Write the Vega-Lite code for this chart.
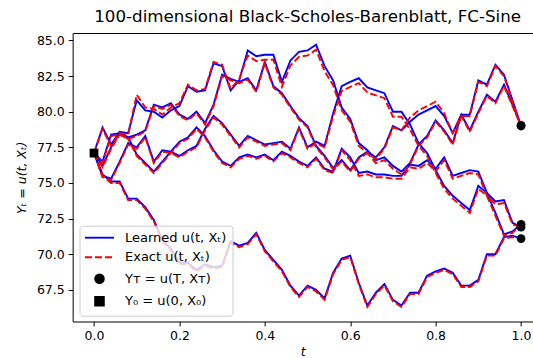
{
 "$schema": "https://vega.github.io/schema/vega-lite/v6.json",
 "autosize": {"type": "none"},
 "padding": {"left": 72.65, "top": 33, "right": 0, "bottom": 36.5},
 "width": 460.35,
 "height": 288.5,
 "title": {"text": "100-dimensional Black-Scholes-Barenblatt, FC-Sine", "font": "DejaVu Sans", "fontSize": 16.7, "fontWeight": "normal", "color": "black", "anchor": "middle", "frame": "group", "dx": 4.8, "dy": 14, "offset": 8, "baseline": "alphabetic"},
 "config": {
  "view": {"stroke": null},
  "axis": {"domainColor": "black", "tickColor": "black", "labelColor": "black", "titleColor": "black", "labelFont": "DejaVu Sans", "titleFont": "DejaVu Sans", "labelFontSize": 12.5, "titleFontSize": 12.5, "titleFontWeight": "normal", "tickSize": 4.4, "labelPadding": 4, "grid": false, "domainWidth": 1, "tickWidth": 1}
 },
 "datasets": {
  "learned": [
   {"t":0.00,"A":77.1,"B":77.1,"C":77.1,"D":77.1,"E":77.1},
   {"t":0.02,"A":78.9,"B":76.5,"C":75.5,"D":76.2,"E":75.6},
   {"t":0.04,"A":77.7,"B":78.4,"C":75.3,"D":77.5,"E":75.1},
   {"t":0.06,"A":78.6,"B":78.5,"C":76.5,"D":78.5,"E":75.1},
   {"t":0.08,"A":78.5,"B":78.2,"C":77.8,"D":78.2,"E":73.9},
   {"t":0.10,"A":80.8,"B":78.4,"C":77.5,"D":77.0,"E":73.9},
   {"t":0.12,"A":80.1,"B":78.7,"C":78.3,"D":76.4,"E":73.3},
   {"t":0.14,"A":80.0,"B":80.5,"C":76.5,"D":75.8,"E":72.4},
   {"t":0.16,"A":79.6,"B":80.3,"C":77.3,"D":76.5,"E":71.0},
   {"t":0.18,"A":80.1,"B":80.6,"C":77.2,"D":77.2,"E":70.4},
   {"t":0.20,"A":80.4,"B":79.8,"C":76.9,"D":77.9,"E":69.4},
   {"t":0.22,"A":81.8,"B":79.5,"C":77.3,"D":78.2,"E":69.4},
   {"t":0.24,"A":81.4,"B":80.0,"C":77.6,"D":78.9,"E":68.9},
   {"t":0.26,"A":81.5,"B":79.2,"C":78.8,"D":78.3,"E":69.3},
   {"t":0.28,"A":83.4,"B":80.5,"C":79.7,"D":77.3,"E":69.1},
   {"t":0.30,"A":83.2,"B":82.6,"C":79.2,"D":76.5,"E":69.2},
   {"t":0.32,"A":81.5,"B":82.3,"C":78.4,"D":76.2,"E":70.9},
   {"t":0.34,"A":82.2,"B":82.1,"C":77.6,"D":76.8,"E":70.6},
   {"t":0.36,"A":84.3,"B":82.35,"C":78.3,"D":77.0,"E":70.8},
   {"t":0.38,"A":83.9,"B":81.5,"C":78.0,"D":76.8,"E":71.5},
   {"t":0.40,"A":84.0,"B":83.5,"C":77.7,"D":77.0,"E":70.3},
   {"t":0.42,"A":84.0,"B":81.8,"C":77.8,"D":76.6,"E":69.6},
   {"t":0.44,"A":82.1,"B":81.3,"C":77.9,"D":77.2,"E":68.9},
   {"t":0.46,"A":83.6,"B":80.4,"C":77.4,"D":76.9,"E":67.8},
   {"t":0.48,"A":84.2,"B":79.55,"C":78.9,"D":76.5,"E":67.1},
   {"t":0.50,"A":84.3,"B":79.0,"C":77.5,"D":76.2,"E":67.8},
   {"t":0.52,"A":84.7,"B":77.6,"C":77.9,"D":76.8,"E":67.5},
   {"t":0.54,"A":83.2,"B":76.9,"C":77.6,"D":76.0,"E":66.9},
   {"t":0.56,"A":82.2,"B":76.05,"C":79.9,"D":75.8,"E":68.7},
   {"t":0.58,"A":80.3,"B":76.6,"C":81.8,"D":77.4,"E":69.7},
   {"t":0.60,"A":79.5,"B":75.9,"C":82.1,"D":76.8,"E":69.9},
   {"t":0.62,"A":77.8,"B":76.8,"C":82.35,"D":75.7,"E":68.0},
   {"t":0.64,"A":77.3,"B":77.2,"C":81.7,"D":75.8,"E":66.4},
   {"t":0.66,"A":76.6,"B":76.8,"C":81.5,"D":75.6,"E":67.3},
   {"t":0.68,"A":76.8,"B":77.5,"C":81.3,"D":75.6,"E":67.9},
   {"t":0.70,"A":76.2,"B":79.0,"C":80.0,"D":75.5,"E":66.8},
   {"t":0.72,"A":75.8,"B":78.7,"C":80.0,"D":75.5,"E":66.4},
   {"t":0.74,"A":76.4,"B":79.3,"C":79.1,"D":76.3,"E":67.3},
   {"t":0.76,"A":77.7,"B":79.8,"C":77.8,"D":76.2,"E":67.3},
   {"t":0.78,"A":78.3,"B":80.1,"C":77.1,"D":76.6,"E":68.5},
   {"t":0.80,"A":79.4,"B":80.4,"C":75.9,"D":76.0,"E":68.8},
   {"t":0.82,"A":78.7,"B":79.7,"C":74.8,"D":76.8,"E":69.0},
   {"t":0.84,"A":77.8,"B":78.5,"C":74.1,"D":75.5,"E":68.7},
   {"t":0.86,"A":79.8,"B":79.8,"C":73.6,"D":75.7,"E":67.8},
   {"t":0.88,"A":79.8,"B":78.7,"C":73.1,"D":75.9,"E":67.8},
   {"t":0.90,"A":82.2,"B":80.0,"C":74.8,"D":75.8,"E":68.2},
   {"t":0.92,"A":81.9,"B":81.2,"C":74.3,"D":74.3,"E":70.0},
   {"t":0.94,"A":83.3,"B":80.7,"C":72.9,"D":73.7,"E":70.0},
   {"t":0.96,"A":82.6,"B":81.9,"C":71.4,"D":73.8,"E":71.2},
   {"t":0.98,"A":80.8,"B":80.5,"C":71.6,"D":72.2,"E":71.3},
   {"t":1.00,"A":79.0,"B":79.0,"C":72.1,"D":71.9,"E":71.1}
  ],
  "exact": [
   {"t":0.00,"A":77.1,"B":77.1,"C":77.1,"D":77.1,"E":77.1},
   {"t":0.02,"A":78.8,"B":76.4,"C":75.4,"D":76.1,"E":75.5},
   {"t":0.04,"A":77.6,"B":78.3,"C":75.2,"D":77.4,"E":75.0},
   {"t":0.06,"A":78.5,"B":78.4,"C":76.4,"D":78.4,"E":75.0},
   {"t":0.08,"A":78.4,"B":78.1,"C":77.7,"D":78.1,"E":73.8},
   {"t":0.10,"A":81.2,"B":78.3,"C":77.4,"D":76.9,"E":73.8},
   {"t":0.12,"A":80.3,"B":78.6,"C":78.2,"D":76.3,"E":73.2},
   {"t":0.14,"A":80.2,"B":80.4,"C":76.4,"D":75.7,"E":72.3},
   {"t":0.16,"A":79.8,"B":80.2,"C":77.2,"D":76.4,"E":70.9},
   {"t":0.18,"A":80.3,"B":80.5,"C":77.1,"D":77.1,"E":70.3},
   {"t":0.20,"A":80.6,"B":79.7,"C":76.8,"D":77.8,"E":69.3},
   {"t":0.22,"A":81.9,"B":79.4,"C":77.2,"D":78.1,"E":69.3},
   {"t":0.24,"A":81.5,"B":79.9,"C":77.5,"D":78.8,"E":68.8},
   {"t":0.26,"A":81.6,"B":79.1,"C":78.7,"D":78.2,"E":69.2},
   {"t":0.28,"A":83.5,"B":80.4,"C":79.6,"D":77.2,"E":69.0},
   {"t":0.30,"A":83.3,"B":82.5,"C":79.1,"D":76.4,"E":69.1},
   {"t":0.32,"A":81.6,"B":82.2,"C":78.3,"D":76.1,"E":70.8},
   {"t":0.34,"A":82.3,"B":82.0,"C":77.5,"D":76.7,"E":70.5},
   {"t":0.36,"A":83.95,"B":82.25,"C":78.2,"D":76.9,"E":70.7},
   {"t":0.38,"A":83.55,"B":81.4,"C":77.9,"D":76.7,"E":71.4},
   {"t":0.40,"A":83.65,"B":83.4,"C":77.6,"D":76.9,"E":70.2},
   {"t":0.42,"A":83.65,"B":81.7,"C":77.7,"D":76.5,"E":69.5},
   {"t":0.44,"A":81.75,"B":81.2,"C":77.8,"D":77.1,"E":68.8},
   {"t":0.46,"A":83.25,"B":80.3,"C":77.3,"D":76.8,"E":67.7},
   {"t":0.48,"A":83.85,"B":79.45,"C":78.8,"D":76.4,"E":67.0},
   {"t":0.50,"A":83.95,"B":78.9,"C":77.4,"D":76.1,"E":67.7},
   {"t":0.52,"A":84.35,"B":77.5,"C":77.8,"D":76.7,"E":67.4},
   {"t":0.54,"A":82.85,"B":76.8,"C":77.5,"D":75.9,"E":66.8},
   {"t":0.56,"A":81.85,"B":75.95,"C":79.7,"D":75.7,"E":68.6},
   {"t":0.58,"A":80.1,"B":76.5,"C":81.45,"D":77.3,"E":69.6},
   {"t":0.60,"A":79.3,"B":75.8,"C":81.75,"D":76.6,"E":69.8},
   {"t":0.62,"A":77.6,"B":76.7,"C":82.0,"D":75.5,"E":67.9},
   {"t":0.64,"A":77.1,"B":77.1,"C":81.35,"D":75.6,"E":66.3},
   {"t":0.66,"A":76.4,"B":76.7,"C":81.15,"D":75.4,"E":67.2},
   {"t":0.68,"A":76.6,"B":77.4,"C":80.95,"D":75.4,"E":67.8},
   {"t":0.70,"A":76.0,"B":78.9,"C":79.65,"D":75.3,"E":66.7},
   {"t":0.72,"A":75.6,"B":78.7,"C":79.65,"D":75.3,"E":66.3},
   {"t":0.74,"A":76.3,"B":79.6,"C":78.75,"D":76.1,"E":67.2},
   {"t":0.76,"A":77.6,"B":80.1,"C":77.6,"D":76.0,"E":67.2},
   {"t":0.78,"A":78.2,"B":80.4,"C":76.9,"D":76.4,"E":68.4},
   {"t":0.80,"A":79.3,"B":80.7,"C":75.7,"D":75.8,"E":68.7},
   {"t":0.82,"A":78.6,"B":79.9,"C":74.6,"D":76.6,"E":68.9},
   {"t":0.84,"A":77.7,"B":78.5,"C":73.9,"D":75.3,"E":68.6},
   {"t":0.86,"A":79.7,"B":79.7,"C":73.4,"D":75.5,"E":67.7},
   {"t":0.88,"A":79.7,"B":78.6,"C":72.9,"D":75.7,"E":67.7},
   {"t":0.90,"A":82.1,"B":79.9,"C":74.6,"D":75.6,"E":68.1},
   {"t":0.92,"A":81.8,"B":81.1,"C":74.1,"D":74.1,"E":69.9},
   {"t":0.94,"A":83.2,"B":80.6,"C":72.7,"D":73.5,"E":69.9},
   {"t":0.96,"A":82.5,"B":81.8,"C":71.3,"D":73.6,"E":71.1},
   {"t":0.98,"A":80.7,"B":80.4,"C":71.5,"D":72.1,"E":71.2},
   {"t":1.00,"A":79.0,"B":79.0,"C":72.1,"D":71.9,"E":71.1}
  ],
  "marks": [
   {"t":1.0,"v":79.0,"label":"Yᴛ = u(T, Xᴛ)"},
   {"t":1.0,"v":79.05,"label":"Yᴛ = u(T, Xᴛ)"},
   {"t":1.0,"v":72.1,"label":"Yᴛ = u(T, Xᴛ)"},
   {"t":1.0,"v":71.9,"label":"Yᴛ = u(T, Xᴛ)"},
   {"t":1.0,"v":71.1,"label":"Yᴛ = u(T, Xᴛ)"},
   {"t":0.0,"v":77.1,"label":"Y₀ = u(0, X₀)"}
  ]
 },
 "resolve": {"axis": {"x": "independent"}},
 "layer": [
  {
   "data": {"name": "learned"},
   "transform": [{"fold": ["A","B","C","D","E"], "as": ["path","v"]}],
   "mark": {"type": "line", "strokeWidth": 1.9, "clip": true},
   "encoding": {
    "x": {"field": "t", "type": "quantitative", "scale": {"domain": [-0.05, 1.028], "nice": false, "zero": false}, "axis": {"values": [0,0.2,0.4,0.6,0.8,1.0], "format": ".1f", "title": "t", "titleFontStyle": "italic", "titlePadding": 3}},
    "y": {"field": "v", "type": "quantitative", "scale": {"domain": [65.28, 85.526], "nice": false, "zero": false}, "axis": {"values": [67.5,70,72.5,75,77.5,80,82.5,85], "format": ".1f", "title": "Yₜ = u(t, Xₜ)", "titleFontStyle": "italic", "titlePadding": 8}},
    "detail": {"field": "path", "type": "nominal"},
    "color": {"datum": "Learned u(t, Xₜ)", "type": "nominal",
     "scale": {"domain": ["Learned u(t, Xₜ)", "Exact u(t, Xₜ)", "Yᴛ = u(T, Xᴛ)", "Y₀ = u(0, X₀)"], "range": ["#0000ff", "#ff0000", "#000000", "#000000"]},
     "legend": {"orient": "none", "legendX": 6.85, "legendY": 192.7, "title": null, "padding": 5.5, "labelFont": "DejaVu Sans", "labelFontSize": 13, "labelColor": "black", "labelOffset": 11, "rowPadding": 5.5, "symbolSize": 75, "symbolStrokeWidth": 1.9, "fillColor": "rgba(255,255,255,0.8)", "strokeColor": "#cccccc", "cornerRadius": 3, "labelLimit": 300,
      "encode": {"symbols": {"update": {"x": {"value": 14.5}, "shape": {"scale": "shape", "field": "value"}, "stroke": {"scale": "color", "field": "value"}, "fill": {"scale": "color", "field": "value"}, "strokeWidth": {"value": 1.9}, "opacity": {"value": 1}}}, "labels": {"update": {"x": {"value": 40}}}}}
    }
   }
  },
  {
   "data": {"name": "exact"},
   "transform": [{"fold": ["A","B","C","D","E"], "as": ["path","v"]}],
   "mark": {"type": "line", "strokeWidth": 1.9, "strokeDash": [7, 3], "clip": true},
   "encoding": {
    "x": {"field": "t", "type": "quantitative", "axis": {"orient": "top", "labels": false, "ticks": false, "title": null}},
    "y": {"field": "v", "type": "quantitative"},
    "detail": {"field": "path", "type": "nominal"},
    "color": {"datum": "Exact u(t, Xₜ)", "type": "nominal"}
   }
  },
  {
   "data": {"name": "marks"},
   "mark": {"type": "point", "filled": true, "size": 77, "opacity": 1},
   "encoding": {
    "x": {"field": "t", "type": "quantitative", "axis": null},
    "y": {"field": "v", "type": "quantitative"},
    "color": {"field": "label", "type": "nominal", "title": null},
    "shape": {"field": "label", "type": "nominal", "scale": {"domain": ["Learned u(t, Xₜ)", "Exact u(t, Xₜ)", "Yᴛ = u(T, Xᴛ)", "Y₀ = u(0, X₀)"], "range": ["M-3.35,0H3.35", "M-3.35,0H-1.73M-1.04,0H0.58M1.27,0H2.89", "circle", "square"]}, "legend": null}
   }
  }
 ]
}
